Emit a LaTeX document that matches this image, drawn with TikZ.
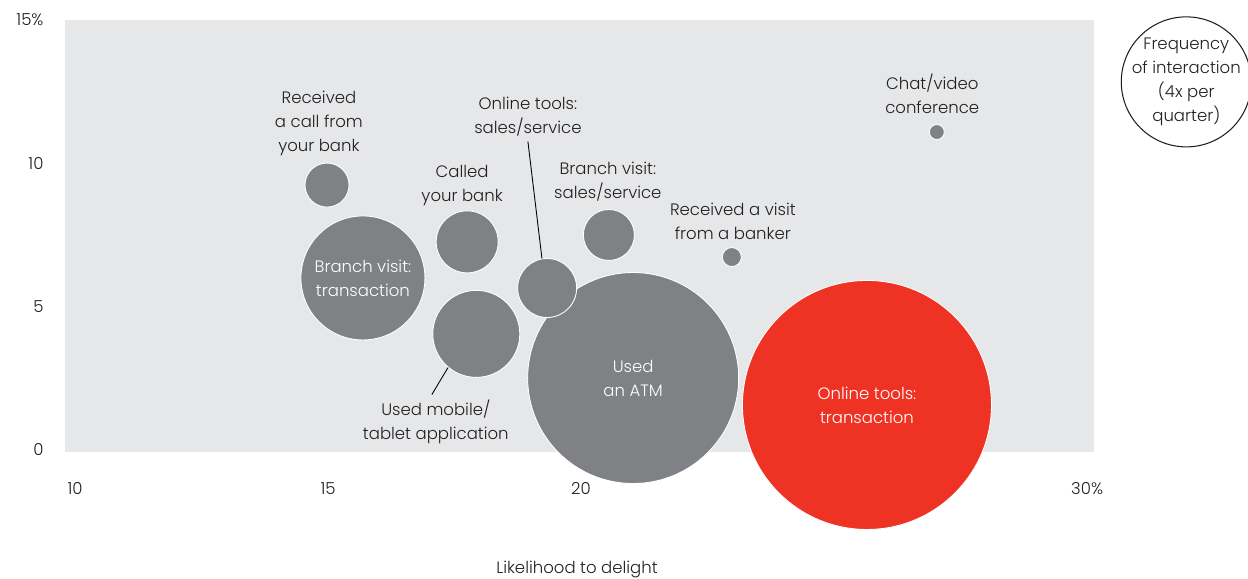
\documentclass[tikz,border=0pt]{standalone}
\usepackage{fontspec}
\setmainfont{Poppins}[UprightFont=* Light]
\definecolor{bubblegray}{RGB}{128,129,132}
\definecolor{panelgray}{RGB}{230,231,232}
\definecolor{delightred}{RGB}{238,50,36}
\definecolor{textgray}{RGB}{35,31,32}
\begin{document}
\begin{tikzpicture}[x=1.012cm,y=0.5733cm,
    every node/.style={font=\fontsize{9.4}{13.66}\selectfont,text=textgray,align=center},
    bubble/.style={circle,fill=bubblegray,draw=white,line width=0.5pt,inner sep=0pt,text=white},
    lbl/.style={inner sep=0pt}]
    \useasboundingbox (8.518,-4.4995) rectangle (33.18,15.696);
    \fill[panelgray] (9.8,-0.07) rectangle (30.14,15);
    \foreach \y/\t in {0/0,5/5,10/10,15/15\%}
        \node[anchor=east] (ytick\y) at (9.5,\y) {\t};
    \foreach \x/\t in {10/10,15/15,20/20,30/30\%}
        \node (xtick\x) at (\x,-1.36) {\t};
    \node (xtitle) at (19.92,-4.18) {Likelihood to delight};
    % bubbles, largest first
    \node[bubble,fill=delightred,minimum size=4.98cm] (otrans) at (25.65,1.57) {Online tools:\\transaction};
    \node[bubble,minimum size=4.22cm] (atm) at (21.03,2.51) {Used\\an ATM};
    \node[bubble,minimum size=2.48cm] (btrans) at (15.69,6.0) {Branch visit:\\transaction};
    \node[bubble,minimum size=1.74cm] (mobile) at (17.93,4.05) {};
    \node[bubble,minimum size=1.24cm] (called) at (17.75,7.26) {};
    \node[bubble,minimum size=1.18cm] (osales) at (19.33,5.65) {};
    \node[bubble,minimum size=1.02cm] (bsales) at (20.55,7.50) {};
    \node[bubble,minimum size=0.88cm] (call) at (14.98,9.24) {};
    \node[bubble,minimum size=0.38cm] (banker) at (22.98,6.73) {};
    \node[bubble,minimum size=0.30cm] (chat) at (27.03,11.09) {};
    % labels
    \node[lbl] (calllbl) at (14.82,11.38) {Received\\a call from\\your bank};
    \node[lbl] (calledlbl) at (17.65,9.21) {Called\\your bank};
    \node[lbl] (osaleslbl) at (18.95,11.64) {Online tools:\\sales/service};
    \node[lbl] (bsaleslbl) at (20.53,9.37) {Branch visit:\\sales/service};
    \node[lbl] (bankerlbl) at (23.0,7.99) {Received a visit\\from a banker};
    \node[lbl] (chatlbl) at (26.94,12.42) {Chat/video\\conference};
    \node[lbl] (mobilelbl) at (17.13,0.98) {Used mobile/\\tablet application};
    \draw[line width=0.5pt] ([yshift=-3pt]osaleslbl.south) -- (osales.100);
    \draw[line width=0.5pt] (mobile.230) -- ([xshift=-0.08cm,yshift=0.1cm]mobilelbl.north);
    % legend
    \node[circle,draw=textgray,line width=0.6pt,minimum size=2.6cm,inner sep=0pt] (freq) at (31.96,12.84) {};
    \node[lbl] (freqlbl) at (freq) {Frequency\\of interaction\\(4x per\\quarter)};
\end{tikzpicture}
\end{document}
